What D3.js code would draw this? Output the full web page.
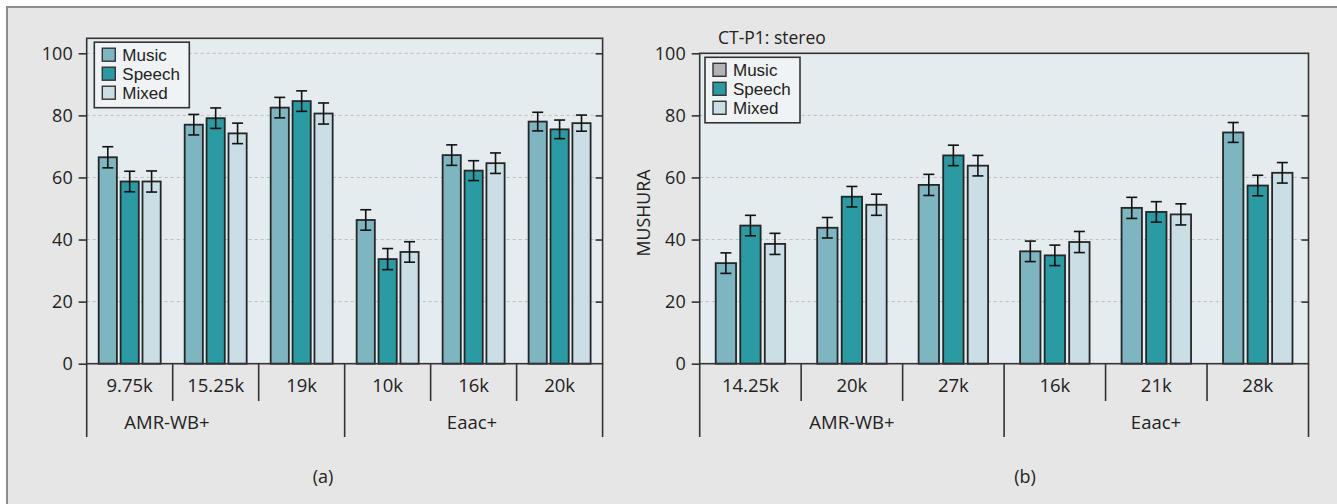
<!DOCTYPE html>
<html>
<head>
<meta charset="utf-8">
<script src="https://cdn.jsdelivr.net/npm/d3@7"></script>
<style>
body { margin: 0; background: #fff; }
svg { display: block; font-family: "Open Sans", sans-serif; }
</style>
</head>
<body>
<svg id="chart" width="1337" height="504"></svg>
<script>
var series = ["Music", "Speech", "Mixed"];
var groups = ["AMR-WB+", "Eaac+"];
var y_ticks = [0, 20, 40, 60, 80, 100];

// panel (a)
var cats_a     = ["9.75k", "15.25k", "19k", "10k", "16k", "20k"];
var music_a    = [66.5, 77.0, 82.5, 46.3, 67.2, 78.0];
var speech_a   = [58.7, 79.1, 84.6, 33.7, 62.2, 75.5];
var mixed_a    = [58.7, 74.2, 80.6, 36.0, 64.6, 77.5];
var music_e_a  = [3.4, 3.3, 3.3, 3.3, 3.3, 3.0];
var speech_e_a = [3.3, 3.3, 3.3, 3.4, 3.2, 3.0];
var mixed_e_a  = [3.4, 3.3, 3.4, 3.3, 3.3, 2.6];

// panel (b)
var cats_b     = ["14.25k", "20k", "27k", "16k", "21k", "28k"];
var music_b    = [32.4, 43.8, 57.6, 36.2, 50.2, 74.5];
var speech_b   = [44.5, 53.8, 67.1, 34.9, 48.9, 57.4];
var mixed_b    = [38.6, 51.2, 63.8, 39.2, 48.1, 61.5];
var music_e_b  = [3.3, 3.3, 3.4, 3.3, 3.4, 3.2];
var speech_e_b = [3.3, 3.3, 3.3, 3.3, 3.3, 3.3];
var mixed_e_b  = [3.4, 3.4, 3.3, 3.4, 3.4, 3.3];

var width = 1337, height = 504;
var colors = {"Music": "#7db5c1", "Speech": "#2a9aa3", "Mixed": "#cadfe5"};

var svg = d3.select("#chart");

// outer frame (cropped at right/bottom)
svg.append("rect")
    .attr("x", 7).attr("y", 7)
    .attr("width", width).attr("height", height)
    .attr("fill", "#e6e6e6")
    .attr("stroke", "#8c8c8c")
    .attr("stroke-width", 2);

var y = d3.scaleLinear().domain([0, 100]).range([363.7, 53.3]);

function draw_panel(p) {
    var g = svg.append("g");
    var x0 = d3.scaleBand().domain(p.cats).range([p.left, p.right]);
    var x1 = d3.scaleBand().domain(series)
        .range([p.pad, x0.bandwidth() - p.pad])
        .paddingInner(0.17);

    var rows = p.cats.map(function(c, i) {
        return {
            cat: c,
            vals: [
                {s: "Music",  v: p.music[i],  e: p.music_e[i]},
                {s: "Speech", v: p.speech[i], e: p.speech_e[i]},
                {s: "Mixed",  v: p.mixed[i],  e: p.mixed_e[i]}
            ]
        };
    });

    // plot background
    g.append("rect")
        .attr("x", p.left).attr("y", p.top)
        .attr("width", p.right - p.left)
        .attr("height", y(0) - p.top)
        .attr("fill", "#e4ecef");

    // grid
    g.selectAll(".grid")
        .data(y_ticks.filter(function(t) { return t > 0 && y(t) > p.top + 1; }))
        .enter().append("line")
        .attr("x1", p.left).attr("x2", p.right)
        .attr("y1", function(d) { return y(d); })
        .attr("y2", function(d) { return y(d); })
        .attr("stroke", "#bcbcbc")
        .attr("stroke-dasharray", "3,3");

    // bars
    var cat_g = g.selectAll(".cat")
        .data(rows)
        .enter().append("g")
        .attr("transform", function(d) { return "translate(" + x0(d.cat) + ",0)"; });

    cat_g.selectAll("rect")
        .data(function(d) { return d.vals; })
        .enter().append("rect")
        .attr("x", function(d) { return x1(d.s); })
        .attr("y", function(d) { return y(d.v); })
        .attr("width", x1.bandwidth())
        .attr("height", function(d) { return y(0) - y(d.v); })
        .attr("fill", function(d) { return colors[d.s]; })
        .attr("stroke", "#262626")
        .attr("stroke-width", 1.8);

    // error bars
    var err = cat_g.selectAll(".err")
        .data(function(d) { return d.vals; })
        .enter().append("g")
        .attr("stroke", "#111")
        .attr("stroke-width", 1.6);
    err.append("line")
        .attr("x1", function(d) { return x1(d.s) + x1.bandwidth() / 2; })
        .attr("x2", function(d) { return x1(d.s) + x1.bandwidth() / 2; })
        .attr("y1", function(d) { return y(d.v + d.e); })
        .attr("y2", function(d) { return y(d.v - d.e); });
    [1, -1].forEach(function(sign) {
        err.append("line")
            .attr("x1", function(d) { return x1(d.s) + x1.bandwidth() / 2 - 5.5; })
            .attr("x2", function(d) { return x1(d.s) + x1.bandwidth() / 2 + 5.5; })
            .attr("y1", function(d) { return y(d.v + sign * d.e); })
            .attr("y2", function(d) { return y(d.v + sign * d.e); });
    });

    // plot border
    g.append("rect")
        .attr("x", p.left).attr("y", p.top)
        .attr("width", p.right - p.left)
        .attr("height", y(0) - p.top)
        .attr("fill", "none")
        .attr("stroke", "#333")
        .attr("stroke-width", 1.6);

    // left axis
    var ax = g.append("g")
        .attr("transform", "translate(" + p.left + ",0)")
        .call(d3.axisLeft(y).tickValues(y_ticks).tickSize(8).tickPadding(6));
    ax.select(".domain").remove();
    ax.selectAll("line").attr("stroke", "#333").attr("stroke-width", 1.6);
    ax.selectAll("text")
        .attr("font-family", "'Open Sans', sans-serif")
        .attr("font-size", 18)
        .attr("fill", "#222");

    // right axis, inward ticks
    var ax_r = g.append("g")
        .attr("transform", "translate(" + p.right + ",0)")
        .call(d3.axisLeft(y).tickValues(y_ticks.filter(function(t) { return t > 0 && y(t) > p.top + 1; }))
            .tickSize(7).tickFormat(""));
    ax_r.select(".domain").remove();
    ax_r.selectAll("line").attr("stroke", "#333").attr("stroke-width", 1.6);

    // category dividers
    var bounds = p.cats.map(function(c) { return x0(c); }).concat([p.right]);
    g.selectAll(".div")
        .data(bounds)
        .enter().append("line")
        .attr("x1", function(d) { return d; })
        .attr("x2", function(d) { return d; })
        .attr("y1", y(0))
        .attr("y2", function(d, i) { return (i % 3 === 0) ? 437 : 401; })
        .attr("stroke", "#333")
        .attr("stroke-width", 1.6);

    g.selectAll(".cat-label")
        .data(p.cats)
        .enter().append("text")
        .attr("x", function(d) { return x0(d) + x0.bandwidth() / 2; })
        .attr("y", 386)
        .attr("dy", "0.35em")
        .attr("text-anchor", "middle")
        .attr("font-size", 18.5)
        .attr("fill", "#222")
        .text(function(d) { return d; });

    g.selectAll(".grp-label")
        .data(groups)
        .enter().append("text")
        .attr("x", function(d, i) { return p.group_x[i]; })
        .attr("y", 423)
        .attr("dy", "0.35em")
        .attr("text-anchor", "middle")
        .attr("font-size", 18.5)
        .attr("fill", "#222")
        .text(function(d) { return d; });

    g.append("text")
        .attr("x", p.caption_x)
        .attr("y", 477)
        .attr("dy", "0.35em")
        .attr("text-anchor", "middle")
        .attr("font-size", 18)
        .attr("fill", "#222")
        .text(p.caption);

    // legend
    var lg = g.append("g").attr("transform", "translate(" + p.lx + "," + p.ly + ")");
    lg.append("rect")
        .attr("width", 95).attr("height", 65.5)
        .attr("fill", "#eff3f5")
        .attr("stroke", "#333")
        .attr("stroke-width", 1.6);
    var item = lg.selectAll(".item")
        .data(series)
        .enter().append("g")
        .attr("transform", function(d, i) { return "translate(0," + (12.5 + i * 19) + ")"; });
    item.append("rect")
        .attr("x", 8).attr("y", -6.5)
        .attr("width", 13).attr("height", 13)
        .attr("fill", function(d) { return p.legend_colors[d]; })
        .attr("stroke", "#333")
        .attr("stroke-width", 1.4);
    item.append("text")
        .attr("x", 28)
        .attr("dy", "0.35em")
        .attr("font-family", "'Liberation Sans', sans-serif")
        .attr("font-size", 17)
        .attr("fill", "#222")
        .text(function(d) { return d; });

    return g;
}

draw_panel({
    cats: cats_a, music: music_a, speech: speech_a, mixed: mixed_a,
    music_e: music_e_a, speech_e: speech_e_a, mixed_e: mixed_e_a,
    left: 86.7, right: 602.6, top: 38.3, pad: 12,
    group_x: [167, 472], caption: "(a)", caption_x: 323,
    lx: 94.3, ly: 42.2, legend_colors: colors
});

var p_b = draw_panel({
    cats: cats_b, music: music_b, speech: speech_b, mixed: mixed_b,
    music_e: music_e_b, speech_e: speech_e_b, mixed_e: mixed_e_b,
    left: 699.7, right: 1308.5, top: 53.3, pad: 16,
    group_x: [852, 1156], caption: "(b)", caption_x: 1025,
    lx: 705, ly: 57.3,
    legend_colors: {"Music": "#b3b3b3", "Speech": colors["Speech"], "Mixed": colors["Mixed"]}
});

p_b.append("text")
    .attr("x", 718).attr("y", 38)
    .attr("dy", "0.35em")
    .attr("font-size", 17.5)
    .attr("fill", "#222")
    .text("CT-P1: stereo");

p_b.append("text")
    .attr("transform", "translate(644,213) rotate(-90)")
    .attr("dy", "0.35em")
    .attr("text-anchor", "middle")
    .attr("font-size", 17.8)
    .attr("fill", "#222")
    .text("MUSHURA");
</script>
</body>
</html>
